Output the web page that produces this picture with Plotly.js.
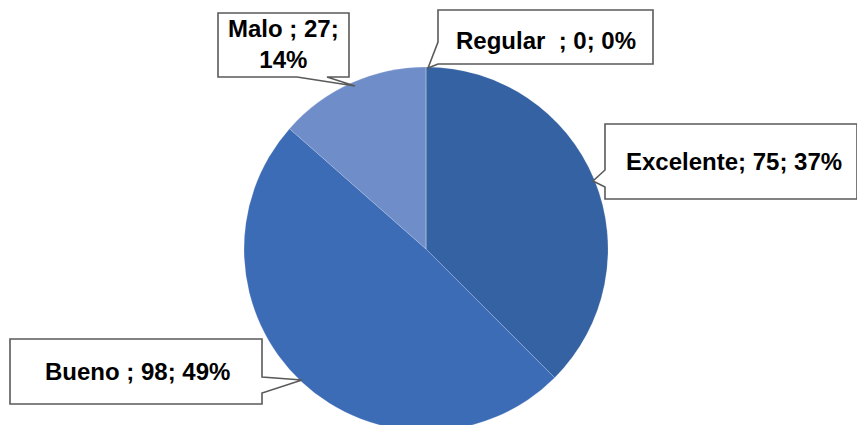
<!DOCTYPE html>
<html>
<head>
<meta charset="utf-8">
<script src="https://cdn.plot.ly/plotly-3.0.1.min.js"></script>
<style>
  html, body { margin: 0; padding: 0; background: #ffffff; overflow: hidden; width: 857px; height: 425px; }
  #chart { width: 857px; height: 440px; }
</style>
</head>
<body>
<div id="chart"></div>
<script>
// Data
const categories = ["Excelente", "Bueno", "Malo", "Regular"];
const values = [75, 98, 27, 0];
const percents = [37, 49, 14, 0];
// label texts as shown in the chart (with original spacing)
const labelNames = ["Excelente", "Bueno ", "Malo ", "Regular  "];
const colors = ["#3562a2", "#3d6cb7", "#6f8dc8", "#8aa3d3"];

const W = 857, H = 440;
const px = x => x / W;
const py = y => 1 - y / H;

function pathOf(pts) {
  return "M" + pts.map(p => px(p[0]).toFixed(5) + "," + py(p[1]).toFixed(5)).join(" L") + " Z";
}

// Callout boxes (layout geometry)
const callouts = [
  { // Excelente
    pts: [[605,124],[857,124],[857,199],[605,199],[605,187],[593,181],[605,170]],
    tx: 734, ty: 161
  },
  { // Bueno
    pts: [[10,339],[262,339],[262,377],[302,380],[262,393],[262,404],[10,404]],
    tx: 137, ty: 371
  },
  { // Malo
    pts: [[218,13],[349,13],[349,77],[327,77],[355,86],[297,77],[218,77]],
    tx: 283, ty: 44
  },
  { // Regular
    pts: [[438,10],[653,10],[653,64],[438,64],[428,68],[438,42]],
    tx: 546, ty: 40
  }
];

const labelTexts = categories.map((c, i) => {
  const sep = (c === "Malo") ? ";<br>" : "; ";
  return labelNames[i] + "; " + values[i] + sep + percents[i] + "%";
});

const shapes = callouts.map(c => ({
  type: "path",
  xref: "paper", yref: "paper",
  path: pathOf(c.pts),
  fillcolor: "#ffffff",
  line: { color: "#5a5a5a", width: 1.6 }
}));

const annotations = callouts.map((c, i) => ({
  xref: "paper", yref: "paper",
  x: px(c.tx), y: py(c.ty),
  xanchor: "center", yanchor: "middle",
  text: "<b>" + labelTexts[i] + "</b>",
  showarrow: false,
  align: "center",
  font: { family: "Liberation Sans, Arial, sans-serif", size: 24, color: "#000000" }
}));

const trace = {
  type: "pie",
  labels: categories,
  values: values,
  sort: false,
  direction: "clockwise",
  rotation: 0,
  textinfo: "none",
  hoverinfo: "label+value+percent",
  marker: { colors: colors, line: { color: "rgba(255,255,255,0.2)", width: 0.8 } },
  domain: { x: [0.2847, 0.7095], y: [0.02045, 0.84773] },
  showlegend: false
};

const layout = {
  width: W, height: H,
  margin: { l: 0, r: 0, t: 0, b: 0 },
  paper_bgcolor: "#ffffff",
  plot_bgcolor: "#ffffff",
  showlegend: false,
  shapes: shapes,
  annotations: annotations
};

Plotly.newPlot("chart", [trace], layout, { displayModeBar: false, staticPlot: true });
</script>
</body>
</html>
